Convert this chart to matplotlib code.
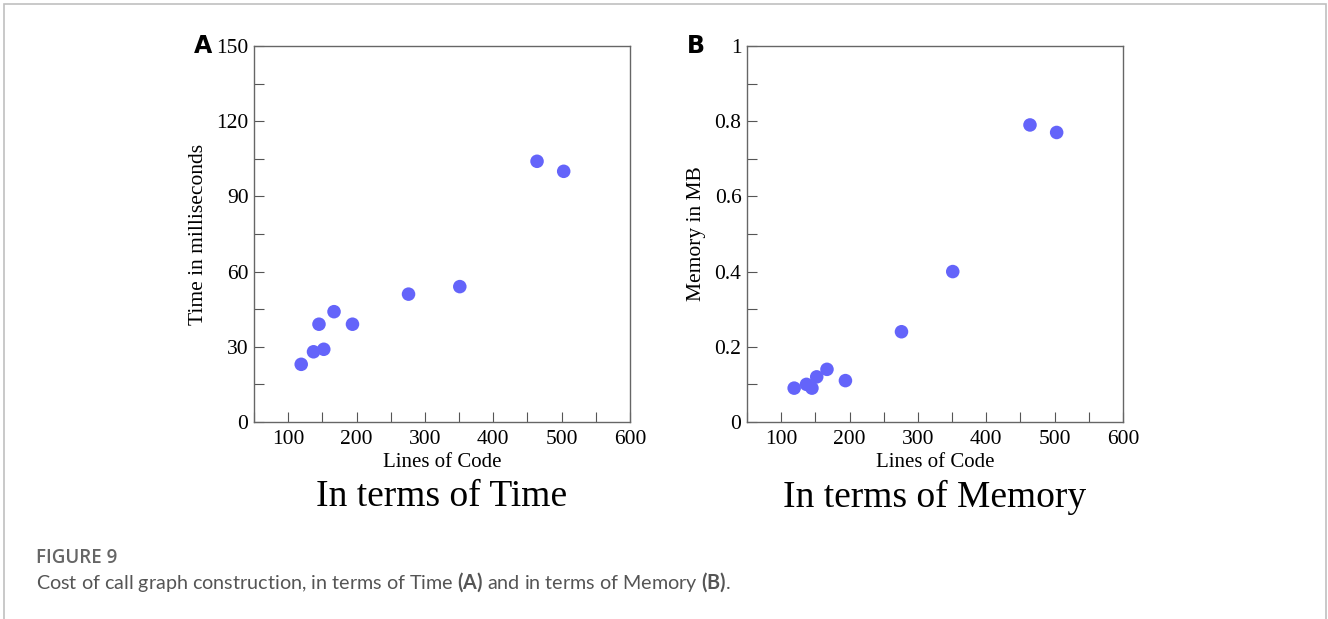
import matplotlib
matplotlib.use("Agg")
import matplotlib.pyplot as plt
from matplotlib.ticker import MultipleLocator
from matplotlib.patches import Rectangle

# data
linesOfCode = [119, 137, 145, 152, 167, 194, 276, 351, 464, 503]
timeMs = [23, 28, 39, 29, 44, 39, 51, 54, 104, 100]
memoryMB = [0.09, 0.10, 0.09, 0.12, 0.14, 0.11, 0.24, 0.40, 0.79, 0.77]

panelLetters = ["A", "B"]
panelTitles = ["In terms of Time", "In terms of Memory"]
yLabels = ["Time in milliseconds", "Memory in MB"]
xLabel = "Lines of Code"
captionHead = "FIGURE 9"

dotColor = "#6464fa"
serif = "Liberation Serif"

plt.rcParams["mathtext.fontset"] = "custom"
plt.rcParams["mathtext.rm"] = "Lato"
plt.rcParams["mathtext.bf"] = "Lato:bold"

fig = plt.figure(figsize=(13.28, 6.19), dpi=100)

def drawPanel(rect, yValues, yMax, yStep, yLabel, letter, title, yFmt):
  ax = fig.add_axes(rect)
  ax.scatter(linesOfCode, yValues, s=95, color=dotColor, edgecolors="none", zorder=3)
  ax.set_xlim(50, 600)
  ax.set_ylim(0, yMax)
  ax.xaxis.set_major_locator(MultipleLocator(100))
  ax.xaxis.set_minor_locator(MultipleLocator(50))
  ax.yaxis.set_major_locator(MultipleLocator(yStep))
  ax.yaxis.set_minor_locator(MultipleLocator(yStep / 2))
  ax.tick_params(which="both", direction="in", length=7, width=0.8, color="#555555",
                 top=False, right=False, labelsize=15.5)
  ax.tick_params(axis="y", pad=4)
  ax.tick_params(axis="x", pad=6)
  ax.set_yticklabels([yFmt(v) for v in ax.get_yticks()])
  for lab in ax.get_xticklabels() + ax.get_yticklabels():
    lab.set_fontfamily(serif)
  for sp in ax.spines.values():
    sp.set_color("#666666")
    sp.set_linewidth(1.0)
  ax.set_xlabel(xLabel, fontsize=15, fontfamily=serif, labelpad=3)
  ax.set_ylabel(yLabel, fontsize=15.5, fontfamily=serif, labelpad=6)
  ax.text(-0.16, 1.0, letter, transform=ax.transAxes, fontsize=17, fontweight="bold",
          fontfamily="DejaVu Sans", ha="left", va="center")
  ax.text(0.5, -0.2, title, transform=ax.transAxes, fontsize=27, fontfamily=serif,
          ha="center", va="center")
  return ax

drawPanel([0.1913, 0.3183, 0.2831, 0.6074], timeMs, 150, 30, yLabels[0],
          panelLetters[0], panelTitles[0], lambda v: f"{v:.0f}")
drawPanel([0.5625, 0.3183, 0.2831, 0.6074], memoryMB, 1, 0.2, yLabels[1],
          panelLetters[1], panelTitles[1],
          lambda v: "0" if v == 0 else ("1" if abs(v - 1) < 1e-9 else f"{v:.1f}"))

# caption below the chart
fig.text(36 / 1328, 1 - 558 / 619, captionHead, fontsize=13.5, color="#666666",
         fontfamily="Open Sans", fontweight="semibold", ha="left", va="center")
fig.text(36 / 1328, 1 - 582 / 619,
         r"Cost of call graph construction, in terms of Time $\mathbf{(A)}$ and in terms of Memory $\mathbf{(B)}$.",
         fontsize=14.2, color="#555555", fontfamily="Lato", ha="left", va="center")

# thin grey page border
fig.patches.append(Rectangle((4 / 1328, -0.05), 1322 / 1328, 1.05 - 4 / 619,
                             transform=fig.transFigure, fill=False,
                             edgecolor="#c0c0c0", linewidth=1.2))

fig.savefig("out.png", dpi=100)
